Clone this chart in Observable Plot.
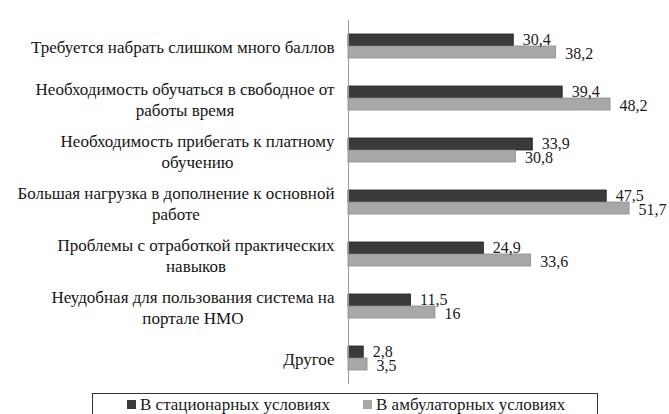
<!DOCTYPE html>
<html><head><meta charset="utf-8">
<script src="https://cdn.jsdelivr.net/npm/d3@7"></script>
<script src="https://cdn.jsdelivr.net/npm/@observablehq/plot@0.6"></script>
<style>
body{margin:0;background:#fff;}
#wrap{position:relative;width:669px;height:414px;overflow:hidden;}
#legend{position:absolute;left:92px;top:393px;width:506px;height:30px;border:1.5px solid #333;box-sizing:border-box;
 font-family:'Liberation Serif';font-size:17px;color:#1a1a1a;line-height:18px;}
#legend .it{position:absolute;top:2px;white-space:nowrap;}
#legend span.sw{display:inline-block;width:9px;height:9px;margin-right:4px;vertical-align:1px;}
</style></head>
<body><div id="wrap"><div id="chart"></div>
<div id="legend"><div class="it" style="left:34px"><span class="sw" style="background:#3a3a3a"></span>В стационарных условиях</div><div class="it" style="left:270px"><span class="sw" style="background:#a8a8a8"></span>В амбулаторных условиях</div></div></div>
<script>
const categories = [
  "Требуется набрать слишком много баллов",
  "Необходимость обучаться в свободное от\nработы время",
  "Необходимость прибегать к платному\nобучению",
  "Большая нагрузка в дополнение к основной\nработе",
  "Проблемы с отработкой практических\nнавыков",
  "Неудобная для пользования система на\nпортале НМО",
  "Другое"
];
const seriesNames = ["В стационарных условиях", "В амбулаторных условиях"];
const inpatient = [30.4, 39.4, 33.9, 47.5, 24.9, 11.5, 2.8];
const outpatient = [38.2, 48.2, 30.8, 51.7, 33.6, 16, 3.5];
const colors = ["#3a3a3a", "#a8a8a8"];
const strokes = ["#1e1e1e", "#8c8c8c"];

const data = [];
categories.forEach((c, i) => {
  data.push({category: c, series: seriesNames[0], value: inpatient[i]});
  data.push({category: c, series: seriesNames[1], value: outpatient[i]});
});
const fmt = v => String(v).replace(".", ",");
const FONT = "Liberation Serif";

const chart = Plot.plot({
  width: 669, height: 393,
  marginLeft: 348, marginRight: 22, marginTop: 18, marginBottom: 7,
  style: {fontFamily: FONT, background: "#fff"},
  x: {domain: [0, 55], axis: null},
  fy: {domain: categories, axis: null, padding: 0},
  y: {domain: seriesNames, axis: null, paddingInner: 0, paddingOuter: 1.03},
  color: {domain: seriesNames, range: colors},
  marks: [
    Plot.barX(data, {x: "value", y: "series", fy: "category", fill: "series",
      stroke: d => d.series === seriesNames[0] ? strokes[0] : strokes[1], strokeWidth: 0.8}),
    Plot.text(data.filter(d => d.series === seriesNames[0]), {x: "value", y: "series", fy: "category", text: d => fmt(d.value),
      textAnchor: "start", dx: 9, dy: -1, fontSize: 16, fontFamily: FONT, fill: "#1a1a1a"}),
    Plot.text(data.filter(d => d.series === seriesNames[1]), {x: "value", y: "series", fy: "category", text: d => fmt(d.value),
      textAnchor: "start", dx: 9, dy: 1, fontSize: 16, fontFamily: FONT, fill: "#1a1a1a"}),
    Plot.text(categories, {fy: d => d, text: d => d, frameAnchor: "left", dx: -14,
      textAnchor: "end", fontSize: 17, fontFamily: FONT, lineHeight: 1.27, fill: "#151515"}),
    Plot.ruleX([0], {stroke: "#999", strokeWidth: 1})
  ]
});
document.getElementById("chart").appendChild(chart);
// center multi-line labels within their right-aligned block
chart.querySelectorAll("text").forEach(t => {
  const spans = t.querySelectorAll("tspan");
  if (spans.length < 2) return;
  let w = 0;
  spans.forEach(s => { w = Math.max(w, s.getComputedTextLength()); });
  t.setAttribute("text-anchor", "middle");
  spans.forEach(s => s.setAttribute("x", -w / 2));
});
</script></body></html>
